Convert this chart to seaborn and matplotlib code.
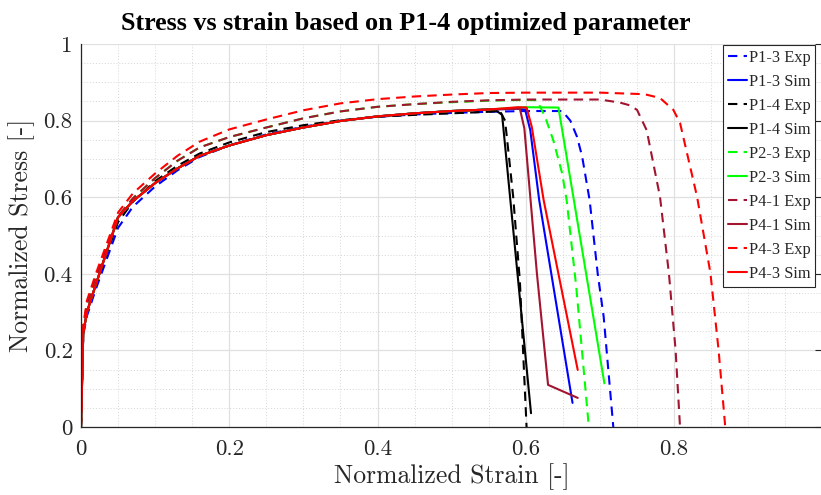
import numpy as np
import pandas as pd
import matplotlib
matplotlib.use("Agg")
import matplotlib.pyplot as plt
from matplotlib.ticker import MultipleLocator, FuncFormatter
import seaborn as sns

# ---------------- data ----------------
strain_hard = [0, 0.003, 0.008, 0.02, 0.035, 0.05, 0.07, 0.1, 0.13, 0.16,
               0.2, 0.25, 0.3, 0.35, 0.4, 0.45, 0.5, 0.55]

# simulation hardening (all simulated curves essentially coincide)
stress_sim_hard = [0, 0.245, 0.30, 0.372, 0.46, 0.548, 0.59, 0.637, 0.675, 0.708,
                   0.735, 0.762, 0.782, 0.799, 0.811, 0.819, 0.825, 0.829]

p13_exp_hard = [0, 0.24, 0.29, 0.36, 0.44, 0.52, 0.575, 0.628, 0.67, 0.705,
                0.735, 0.764, 0.784, 0.80, 0.81, 0.816, 0.82, 0.823]
p14_exp_hard = [0, 0.25, 0.31, 0.37, 0.455, 0.535, 0.588, 0.642, 0.682, 0.714,
                0.743, 0.77, 0.788, 0.801, 0.81, 0.815, 0.819, 0.823]
p23_exp_hard = [0, 0.26, 0.32, 0.39, 0.47, 0.55, 0.597, 0.65, 0.695, 0.73,
                0.757, 0.782, 0.806, 0.824, 0.836, 0.843, 0.848, 0.852]
p41_exp_hard = [0, 0.26, 0.32, 0.39, 0.47, 0.55, 0.597, 0.65, 0.695, 0.73,
                0.757, 0.782, 0.806, 0.824, 0.836, 0.843, 0.849, 0.853]
p43_exp_hard = [0, 0.265, 0.33, 0.40, 0.48, 0.56, 0.61, 0.662, 0.708, 0.745,
                0.777, 0.803, 0.827, 0.845, 0.856, 0.863, 0.868, 0.872]

# failure (post-peak) tails
p13_exp_tail_x = [0.6, 0.649, 0.66, 0.669, 0.676, 0.686, 0.697, 0.705, 0.718]
p13_exp_tail_y = [0.825, 0.825, 0.80, 0.758, 0.706, 0.593, 0.40, 0.288, 0.0]
p13_sim_tail_x = [0.59, 0.599, 0.606, 0.618, 0.663]
p13_sim_tail_y = [0.831, 0.829, 0.775, 0.593, 0.063]

p14_exp_tail_x = [0.565, 0.572, 0.577, 0.583, 0.592, 0.601]
p14_exp_tail_y = [0.825, 0.80, 0.71, 0.60, 0.38, 0.0]
p14_sim_tail_x = [0.56, 0.568, 0.607]
p14_sim_tail_y = [0.826, 0.815, 0.036]

p23_exp_tail_x = [0.6, 0.615, 0.626, 0.637, 0.649, 0.655, 0.668, 0.685]
p23_exp_tail_y = [0.854, 0.853, 0.81, 0.749, 0.662, 0.593, 0.366, 0.0]
p23_sim_tail_x = [0.6, 0.644, 0.706]
p23_sim_tail_y = [0.835, 0.834, 0.114]

p41_exp_tail_x = [0.6, 0.7, 0.727, 0.74, 0.75, 0.763, 0.781, 0.793, 0.802, 0.808]
p41_exp_tail_y = [0.855, 0.855, 0.847, 0.84, 0.828, 0.775, 0.601, 0.401, 0.201, 0.0]
p41_sim_tail_x = [0.592, 0.598, 0.615, 0.63, 0.67]
p41_sim_tail_y = [0.831, 0.78, 0.40, 0.11, 0.076]

p43_exp_tail_x = [0.6, 0.7, 0.76, 0.781, 0.799, 0.808, 0.831, 0.849, 0.86, 0.869]
p43_exp_tail_y = [0.873, 0.873, 0.869, 0.859, 0.828, 0.794, 0.601, 0.402, 0.201, 0.0]
p43_sim_tail_x = [0.59, 0.601, 0.608, 0.624, 0.67]
p43_sim_tail_y = [0.835, 0.834, 0.784, 0.593, 0.149]

labels = ["P1-3 Exp", "P1-3 Sim", "P1-4 Exp", "P1-4 Sim", "P2-3 Exp",
          "P2-3 Sim", "P4-1 Exp", "P4-1 Sim", "P4-3 Exp", "P4-3 Sim"]
x_ticks = [0, 0.2, 0.4, 0.6, 0.8]
y_ticks = [0, 0.2, 0.4, 0.6, 0.8, 1.0]

# ---------------- styles ----------------
brown = (0.635, 0.078, 0.184)
colors = ["#0000ff", "#0000ff", "black", "black", "#00ff00", "#00ff00",
          brown, brown, "#ff0000", "#ff0000"]

series = [
    (strain_hard + p13_exp_tail_x, p13_exp_hard + p13_exp_tail_y),
    (strain_hard + p13_sim_tail_x, stress_sim_hard + p13_sim_tail_y),
    (strain_hard + p14_exp_tail_x, p14_exp_hard + p14_exp_tail_y),
    (strain_hard + p14_sim_tail_x, stress_sim_hard + p14_sim_tail_y),
    (strain_hard + p23_exp_tail_x, p23_exp_hard + p23_exp_tail_y),
    (strain_hard + p23_sim_tail_x, stress_sim_hard + p23_sim_tail_y),
    (strain_hard + p41_exp_tail_x, p41_exp_hard + p41_exp_tail_y),
    (strain_hard + p41_sim_tail_x, stress_sim_hard + p41_sim_tail_y),
    (strain_hard + p43_exp_tail_x, p43_exp_hard + p43_exp_tail_y),
    (strain_hard + p43_sim_tail_x, stress_sim_hard + p43_sim_tail_y),
]

sns.set_style("white")
plt.rcParams["axes.formatter.use_mathtext"] = True

fig = plt.figure(figsize=(8.21, 4.95), dpi=100)
ax = fig.add_axes([81 / 821, 1 - 427 / 495, 741 / 821, 383 / 495])

for (xs, ys), lab, col in zip(series, labels, colors):
    df = pd.DataFrame({"strain": xs, "stress": ys})
    sns.lineplot(data=df, x="strain", y="stress", ax=ax, color=col,
                 sort=False, estimator=None, linewidth=1.5, label=lab)
    if lab.endswith("Exp"):
        ax.lines[-1].set_dashes((4.5, 3.0))

ax.set_xlim(0, 0.9995)
ax.set_ylim(0, 1)
ax.xaxis.set_minor_locator(MultipleLocator(0.05))
ax.yaxis.set_minor_locator(MultipleLocator(0.05))
ax.set_xticks(x_ticks)
ax.set_yticks(y_ticks)
fmt = FuncFormatter(lambda v, p: f"{v:g}")
ax.xaxis.set_major_formatter(fmt)
ax.yaxis.set_major_formatter(fmt)

ax.grid(True, which="major", color="#e0e0e0", linewidth=0.9, linestyle="-")
ax.grid(True, which="minor", color="#d6d6d6", linewidth=0.7, linestyle=(0, (1, 2)))
ax.set_axisbelow(True)

for side in ["left", "bottom"]:
    ax.spines[side].set_color("#262626")
    ax.spines[side].set_linewidth(0.9)
ax.spines["top"].set_visible(False)
ax.spines["right"].set_visible(False)
ax.tick_params(axis="both", which="major", direction="in", length=5, width=0.8,
               colors="#262626", labelcolor="#262626", right=True)
ax.tick_params(axis="both", which="minor", length=0)
for t in ax.get_xticklabels() + ax.get_yticklabels():
    t.set_family("cmr10")
    t.set_fontsize(16.5)
ax.tick_params(axis="x", pad=9)
ax.tick_params(axis="y", pad=6)

ax.set_xlabel("Normalized Strain [-]", family="cmr10", fontsize=18.5, color="#262626", labelpad=3)
ax.set_ylabel("Normalized Stress [-]", family="cmr10", fontsize=18.5, color="#262626", labelpad=6)
ax.set_title("Stress vs strain based on P1-4 optimized parameter",
             family="Liberation Serif", fontweight="bold", fontsize=18.8,
             color="black", x=(406 - 81) / 741, pad=10)

leg = ax.legend(loc="upper right", bbox_to_anchor=(0.991, 0.998), borderaxespad=0,
                prop={"family": "Liberation Serif", "size": 11.8}, frameon=True,
                fancybox=False, handlelength=1.15, handletextpad=0.1,
                labelspacing=0.49, borderpad=0.3)
leg.get_frame().set_edgecolor("#262626")
leg.get_frame().set_linewidth(0.8)
leg.get_frame().set_alpha(1)

fig.savefig("out.png", dpi=100)
